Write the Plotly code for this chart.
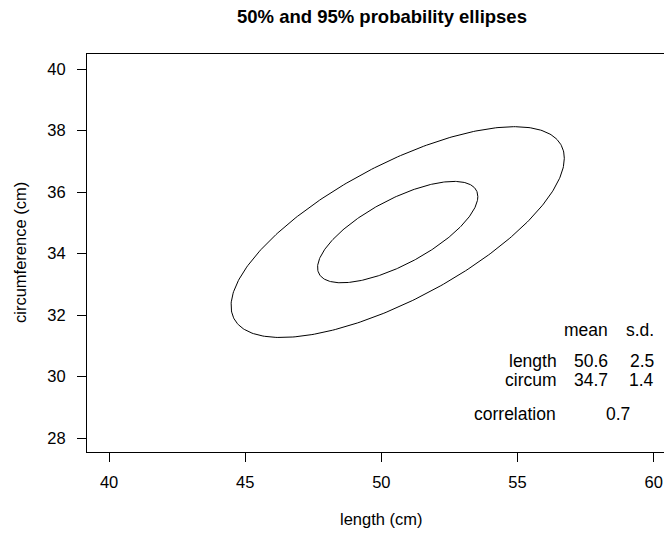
import numpy as np
import plotly.graph_objects as go

# --- data ---
var_names = ["length", "circum"]
means = [50.6, 34.7]
sds = [2.5, 1.4]
correlation = 0.7
prob_levels = [0.50, 0.95]
x_ticks = [40, 45, 50, 55, 60]
y_ticks = [28, 30, 32, 34, 36, 38, 40]

# --- layout geometry ---
W, H = 664, 536
L, T, B, R = 87, 54, 84, 0
x_range = [39.19, 60.38]
y_range = [27.55, 40.49]
FONT = "Liberation Sans, Arial, Helvetica, sans-serif"

fig = go.Figure()

t = np.linspace(0, 2 * np.pi, 361)
for p in prob_levels:
    c = np.sqrt(-2 * np.log(1 - p))  # chi-square(2) quantile, sqrt
    xs = means[0] + c * sds[0] * np.cos(t)
    ys = means[1] + c * sds[1] * (correlation * np.cos(t) + np.sqrt(1 - correlation**2) * np.sin(t))
    fig.add_trace(go.Scatter(x=xs, y=ys, mode="lines",
                             line=dict(color="black", width=1), hoverinfo="skip",
                             showlegend=False))

# summary table as text
col_mean_x, col_sd_x, row_lab_x = 58.39, 60.08, 56.51
row_y = [31.52, 30.52, 29.89]
fs = 17.5
ann = []
ann.append(dict(x=col_mean_x, y=row_y[0], text="mean", xanchor="right"))
ann.append(dict(x=col_sd_x, y=row_y[0], text="s.d.", xanchor="right"))
for i, nm in enumerate(var_names):
    ann.append(dict(x=row_lab_x, y=row_y[i + 1], text=nm, xanchor="right"))
    ann.append(dict(x=col_mean_x, y=row_y[i + 1], text=f"{means[i]:.1f}", xanchor="right"))
    ann.append(dict(x=col_sd_x, y=row_y[i + 1], text=f"{sds[i]:.1f}", xanchor="right"))
ann.append(dict(x=54.92, y=28.80, text="correlation", xanchor="center"))
ann.append(dict(x=58.68, y=28.80, text=f"{correlation:.1f}", xanchor="center"))
for a in ann:
    a.update(xref="x", yref="y", yanchor="middle", showarrow=False,
             font=dict(family=FONT, size=fs, color="black"))

pw = W - L - R
cx = (381.6 - L) / pw
ann.append(dict(xref="paper", yref="paper", x=cx, y=1, yshift=T - 16, text="<b>50% and 95% probability ellipses</b>",
                showarrow=False, xanchor="center", yanchor="middle",
                font=dict(family=FONT, size=18.5, color="black")))
ann.append(dict(xref="paper", yref="paper", x=cx, y=0, yshift=-(519 - 452), text="length (cm)",
                showarrow=False, xanchor="center", yanchor="middle",
                font=dict(family=FONT, size=16.5, color="black")))
ann.append(dict(xref="paper", yref="paper", x=0, y=0.5, xshift=-(L - 20), text="circumference (cm)",
                showarrow=False, xanchor="center", yanchor="middle", textangle=-90,
                font=dict(family=FONT, size=16.5, color="black")))

fig.update_layout(
    width=W, height=H,
    margin=dict(l=L, r=R, t=T, b=B, pad=0),
    paper_bgcolor="white", plot_bgcolor="white",
    annotations=ann,
    font=dict(family=FONT, size=16.5, color="black"),
    xaxis=dict(range=x_range, tickvals=x_ticks, ticktext=[str(v) for v in x_ticks],
               showgrid=False, zeroline=False, showline=True, mirror=True,
               linecolor="black", linewidth=1, ticks="outside", ticklen=9,
               tickcolor="black", tickwidth=1, ticklabelstandoff=6,
               tickfont=dict(family=FONT, size=16.5, color="black")),
    yaxis=dict(range=y_range, tickvals=y_ticks, ticktext=[str(v) for v in y_ticks],
               showgrid=False, zeroline=False, showline=True, mirror=False,
               linecolor="black", linewidth=1, ticks="outside", ticklen=9,
               tickcolor="black", tickwidth=1, ticklabelstandoff=8,
               tickfont=dict(family=FONT, size=16.5, color="black")),
)

fig.write_html("out.html")
